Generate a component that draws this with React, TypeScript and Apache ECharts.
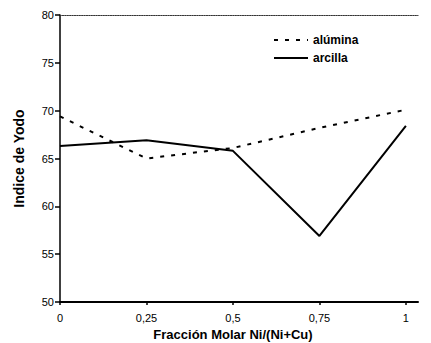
import React, { useEffect, useRef } from "react";
import * as echarts from "echarts";

const xValues = [0, 0.25, 0.5, 0.75, 1];
const alumina = [69.4, 65.0, 66.1, 68.2, 70.1];
const arcilla = [66.3, 66.9, 65.8, 56.9, 68.4];
const xTicks = [0, 0.25, 0.5, 0.75, 1];
const seriesNames = ["alúmina", "arcilla"];
const xTitle = "Fracción Molar Ni/(Ni+Cu)";
const yTitle = "Indice de Yodo";

const FONT = "'Liberation Sans', Arial, sans-serif";

export default function App() {
  const ref = useRef<HTMLDivElement>(null);
  useEffect(() => {
    if (!ref.current) return;
    const chart = echarts.init(ref.current, null, { renderer: "svg" });
    const fmt = (v: number) => String(v).replace(".", ",");
    chart.setOption({
      animation: false,
      backgroundColor: "#ffffff",
      grid: { left: 60, top: 15, right: 13, bottom: 41, outerBoundsMode: "none", containLabel: false },
      legend: {
        orient: "vertical",
        left: 268,
        top: 29,
        itemWidth: 34,
        itemHeight: 14,
        itemGap: 6,
        itemStyle: { opacity: 0 },
        textStyle: { fontFamily: FONT, fontWeight: "bold", fontSize: 12, color: "#000" },
        data: seriesNames,
      },
      xAxis: [
        {
          type: "value",
          min: 0,
          max: 1.035,
          position: "bottom",
          name: xTitle,
          nameLocation: "middle",
          nameGap: 24,
          nameTextStyle: { fontFamily: FONT, fontWeight: "bold", fontSize: 13, color: "#000", padding: [0, 12, 0, 0] },
          axisLine: { lineStyle: { color: "#000", width: 2 } },
          axisTick: { show: true, length: 3, customValues: xTicks, lineStyle: { color: "#000", width: 1.5 } },
          axisLabel: {
            customValues: xTicks,
            formatter: fmt,
            fontFamily: FONT,
            fontSize: 11,
            color: "#000",
            margin: 10,
          },
          splitLine: { show: false },
        },
        {
          type: "value",
          min: 0,
          max: 1.035,
          position: "top",
          axisLine: { show: true, lineStyle: { color: "#333", width: 1.2, type: "dotted" } },
          axisTick: { show: false },
          axisLabel: { show: false },
          splitLine: { show: false },
        },
      ],
      yAxis: {
        type: "value",
        min: 50,
        max: 80,
        interval: 5,
        name: yTitle,
        nameLocation: "middle",
        nameGap: 34,
        nameTextStyle: { fontFamily: FONT, fontWeight: "bold", fontSize: 14, color: "#000" },
        axisLine: { show: true, lineStyle: { color: "#000", width: 1.5 } },
        axisTick: { show: true, length: 5, lineStyle: { color: "#000", width: 1.5 } },
        axisLabel: { fontFamily: FONT, fontSize: 11, color: "#000", margin: 6 },
        splitLine: { show: false },
      },
      series: [
        {
          name: seriesNames[0],
          type: "line",
          xAxisIndex: 0,
          symbol: "none",
          data: xValues.map((x, i) => [x, alumina[i]]),
          lineStyle: { color: "#000", width: 2, type: [4, 7] },
          itemStyle: { color: "#000" },
        },
        {
          name: seriesNames[1],
          type: "line",
          xAxisIndex: 0,
          symbol: "none",
          data: xValues.map((x, i) => [x, arcilla[i]]),
          lineStyle: { color: "#000", width: 2, type: "solid" },
          itemStyle: { color: "#000" },
        },
      ],
    });
    return () => chart.dispose();
  }, []);
  return (
    <div
      ref={ref}
      style={{ position: "absolute", left: 0, top: 0, width: 431, height: 343, background: "#fff" }}
    />
  );
}
